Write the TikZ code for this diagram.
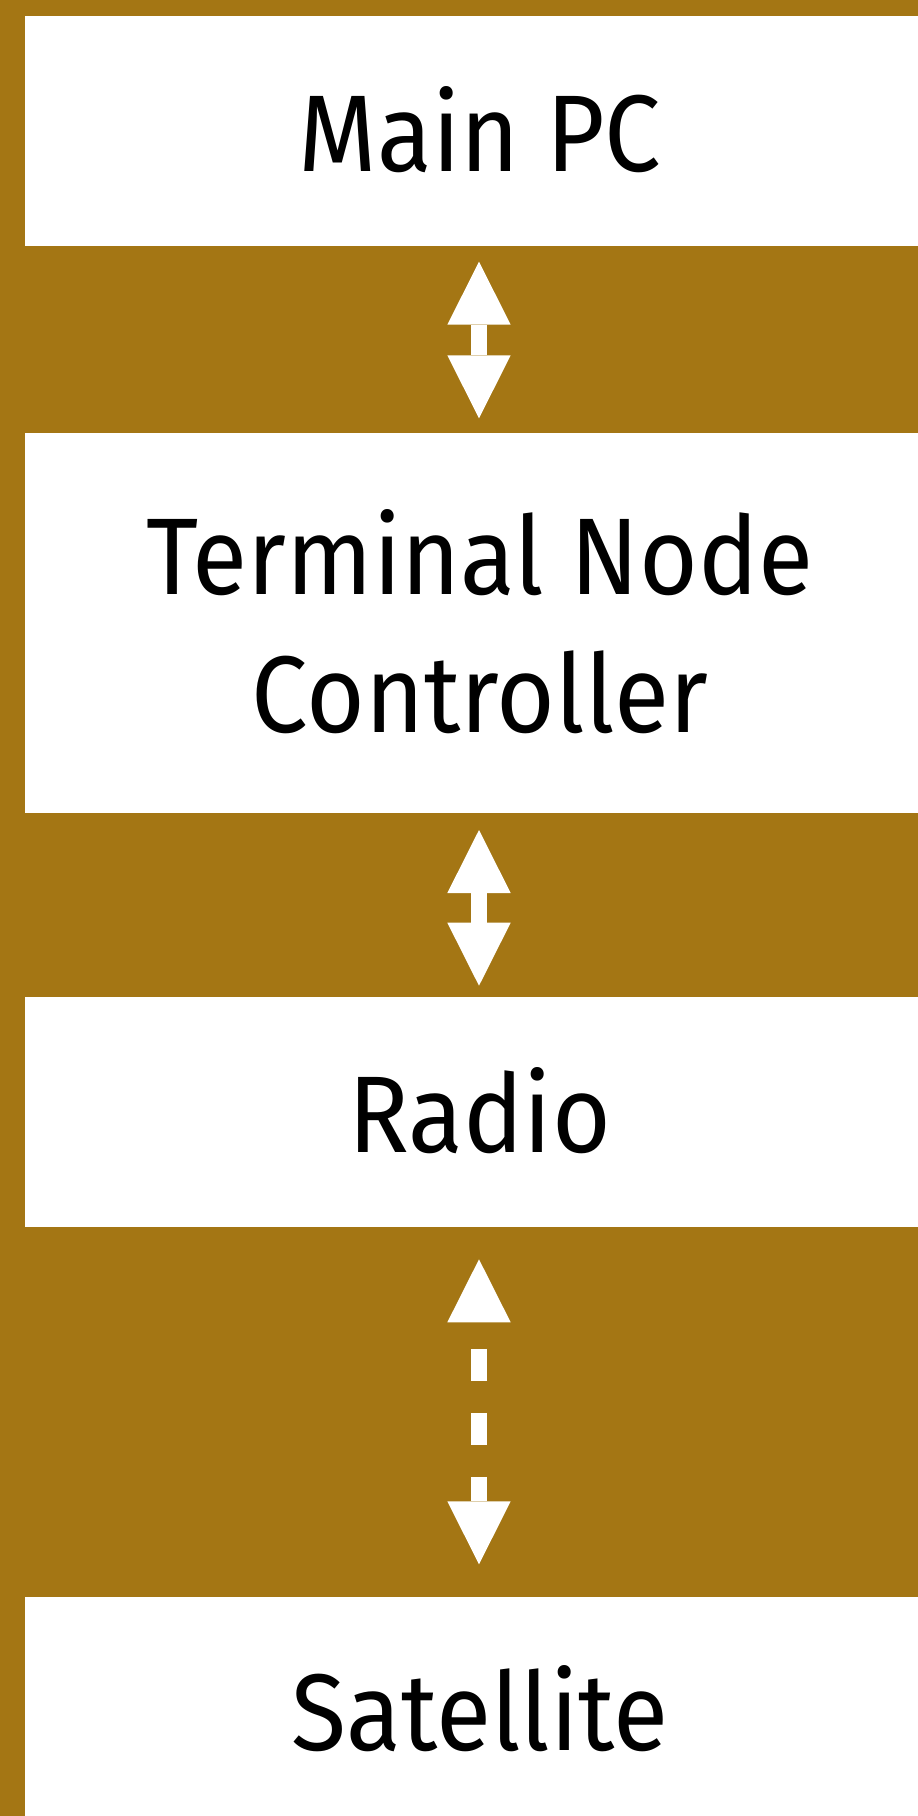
\documentclass[tikz,border=0pt]{standalone}
\usepackage{fontspec}
\setmainfont{Fira Sans}[FakeStretch=0.925]
\usetikzlibrary{arrows.meta}
\definecolor{gold}{RGB}{164,118,20}
\tikzset{
  block/.style={fill=white, draw=none, inner sep=0pt, outer sep=0pt,
    anchor=north west, minimum width=893pt},
  blocktext/.style={inner sep=0pt, outer sep=0pt, align=center,
    font=\fontsize{109}{138.7}\selectfont},
  head/.tip={Triangle[width=63.4pt, length=63pt, line width=0pt]},
  link/.style={white, line width=16pt, {head}-{head}},
}
\begin{document}
\begin{tikzpicture}[x=1pt, y=-1pt]
  \useasboundingbox (0,0) rectangle (918,1816);
  \fill[gold] (0,0) rectangle (918,1816);

  % the four stacked blocks
  \node[block, minimum height=230pt]   (pc)    at (25,15.7)   {};
  \node[block, minimum height=379.7pt] (tnc)   at (25,433)    {};
  \node[block, minimum height=230pt]   (radio) at (25,996.7)  {};
  \node[block, minimum height=219.3pt] (sat)   at (25,1596.7) {};

  % their captions (base anchor = baseline of the last line)
  \node[blocktext, anchor=base] (pctext)    at (480,171)    {Main PC};
  \node[blocktext, anchor=base] (tnctext)   at (480,732.7)  {Terminal Node\\Controller};
  \node[blocktext, anchor=base] (radiotext) at (480,1152.7) {Radio};
  \node[blocktext, anchor=base] (sattext)   at (480,1750)   {Satellite};

  % two-way links between neighbouring blocks
  \draw[link, shorten <=16pt, shorten >=14.7pt]
    ([xshift=7.5pt]pc.south) -- ([xshift=7.5pt]tnc.north);
  \draw[link, shorten <=17.3pt, shorten >=11pt]
    ([xshift=7.5pt]tnc.south) -- ([xshift=7.5pt]radio.north);
  \draw[link, shorten <=32.6pt, shorten >=32.4pt,
        dash pattern=on 32pt off 32pt, dash phase=37.4pt]
    ([xshift=7.5pt]radio.south) -- ([xshift=7.5pt]sat.north);
\end{tikzpicture}
\end{document}
